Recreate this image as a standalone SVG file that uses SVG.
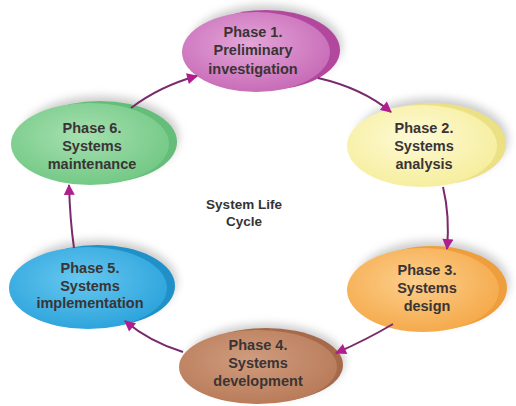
<svg xmlns="http://www.w3.org/2000/svg" width="516" height="406" viewBox="0 0 516 406">
<style>
.lbl{font-family:"Liberation Sans",Arial,sans-serif;font-weight:bold;font-size:14.5px;fill:#3a3434;text-anchor:middle}
.ctr{font-family:"Liberation Sans",Arial,sans-serif;font-weight:bold;font-size:13.5px;fill:#333;text-anchor:middle}
.sh{fill:#9a9a9a;opacity:0.5;filter:url(#blur)}
.conn{fill:none;stroke:#7a2a6c;stroke-width:2;marker-end:url(#ah)}
</style>
<defs>
<filter id="blur" x="-30%" y="-50%" width="160%" height="200%"><feGaussianBlur stdDeviation="4"/></filter>
<marker id="ah" viewBox="0 0 10 10" refX="9" refY="5" markerWidth="12" markerHeight="11" markerUnits="userSpaceOnUse" orient="auto"><path d="M0,0 L10,5 L0,10 z" fill="#b01e8e"/></marker>
<radialGradient id="g1" cx="45%" cy="40%" r="60%"><stop offset="0" stop-color="#e4a6d8"/><stop offset="1" stop-color="#c86cb8"/></radialGradient>
<radialGradient id="g2" cx="45%" cy="40%" r="60%"><stop offset="0" stop-color="#fefad6"/><stop offset="1" stop-color="#f6ee9e"/></radialGradient>
<radialGradient id="g3" cx="45%" cy="40%" r="60%"><stop offset="0" stop-color="#fccf8c"/><stop offset="1" stop-color="#f5aa4c"/></radialGradient>
<radialGradient id="g4" cx="45%" cy="40%" r="60%"><stop offset="0" stop-color="#cf9c7e"/><stop offset="1" stop-color="#b97c5a"/></radialGradient>
<radialGradient id="g5" cx="45%" cy="40%" r="60%"><stop offset="0" stop-color="#66c8f0"/><stop offset="1" stop-color="#2ea4dc"/></radialGradient>
<radialGradient id="g6" cx="45%" cy="40%" r="60%"><stop offset="0" stop-color="#a6e0b0"/><stop offset="1" stop-color="#74c986"/></radialGradient>
</defs>
<rect width="516" height="406" fill="#ffffff"/>

<g id="phase1">
<ellipse class="sh" cx="266" cy="45" rx="76" ry="40"/>
<ellipse cx="266" cy="50" rx="74" ry="40" fill="#b2489e"/>
<ellipse cx="256" cy="52" rx="74" ry="40" fill="url(#g1)"/>
<text class="lbl" x="253" y="37">Phase 1.</text>
<text class="lbl" x="253" y="55">Preliminary</text>
<text class="lbl" x="253" y="74">investigation</text>
</g>

<g id="phase2">
<ellipse class="sh" cx="432" cy="139" rx="76" ry="41"/>
<ellipse cx="432" cy="144" rx="74" ry="41" fill="#ece084"/>
<ellipse cx="422" cy="146" rx="75" ry="41" fill="url(#g2)"/>
<text class="lbl" x="424" y="133">Phase 2.</text>
<text class="lbl" x="424" y="151">Systems</text>
<text class="lbl" x="424" y="169">analysis</text>
</g>

<g id="phase3">
<ellipse class="sh" cx="432" cy="283" rx="77" ry="42"/>
<ellipse cx="432" cy="288" rx="75" ry="42" fill="#ee9e3c"/>
<ellipse cx="423" cy="290" rx="76" ry="42" fill="url(#g3)"/>
<text class="lbl" x="427" y="275">Phase 3.</text>
<text class="lbl" x="427" y="293">Systems</text>
<text class="lbl" x="427" y="311">design</text>
</g>

<g id="phase4">
<ellipse class="sh" cx="266" cy="361" rx="79" ry="37"/>
<ellipse cx="266" cy="365" rx="77" ry="37" fill="#a66a4a"/>
<ellipse cx="258" cy="367" rx="79" ry="37" fill="url(#g4)"/>
<text class="lbl" x="258" y="350">Phase 4.</text>
<text class="lbl" x="258" y="368">Systems</text>
<text class="lbl" x="258" y="386">development</text>
</g>

<g id="phase5">
<ellipse class="sh" cx="98" cy="281" rx="79" ry="41"/>
<ellipse cx="98" cy="286" rx="77" ry="41" fill="#1f90c8"/>
<ellipse cx="88" cy="288" rx="79" ry="41" fill="url(#g5)"/>
<text class="lbl" x="90" y="273">Phase 5.</text>
<text class="lbl" x="90" y="291">Systems</text>
<text class="lbl" x="90" y="308">implementation</text>
</g>

<g id="phase6">
<ellipse class="sh" cx="100" cy="137" rx="79" ry="41"/>
<ellipse cx="100" cy="142" rx="77" ry="41" fill="#64bd78"/>
<ellipse cx="90" cy="144" rx="79" ry="41" fill="url(#g6)"/>
<text class="lbl" x="92" y="133">Phase 6.</text>
<text class="lbl" x="92" y="151">Systems</text>
<text class="lbl" x="92" y="169">maintenance</text>
</g>

<g id="center">
<text class="ctr" x="244" y="209">System Life</text>
<text class="ctr" x="244" y="226">Cycle</text>
</g>

<g id="connectors">
<path class="conn" d="M131,108 Q160,86 197,76"/>
<path class="conn" d="M318,78 Q362,88 391,112"/>
<path class="conn" d="M443,187 Q450,216 447,249"/>
<path class="conn" d="M393,324 Q366,340 336,353"/>
<path class="conn" d="M183,352 Q150,342 125,321"/>
<path class="conn" d="M74,248 Q70,220 69,185"/>
</g>
</svg>
